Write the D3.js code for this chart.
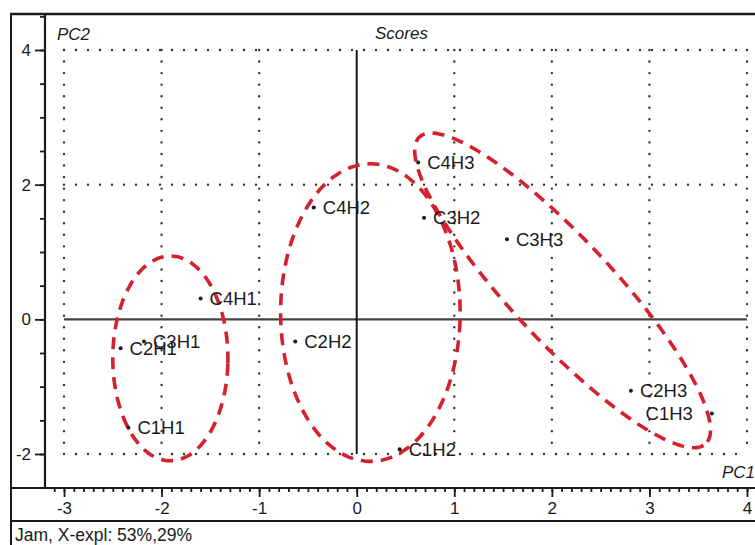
<!DOCTYPE html>
<html><head><meta charset="utf-8">
<script src="https://cdn.jsdelivr.net/npm/d3@7"></script>
<style>body{margin:0;background:#fff}svg{display:block}text{font-family:"Liberation Sans",Arial,sans-serif;fill:#1a1a1a}</style>
</head><body>
<script>
// ---- data ----
const labels = ["C4H3","C3H2","C3H3","C4H1","C2H1","C3H1","C1H1","C4H2","C2H2","C1H2","C2H3","C1H3"];
const pc1    = [0.63, 0.69, 1.54, -1.60, -2.42, -2.18, -2.34, -0.44, -0.63, 0.44, 2.81, 3.64];
const pc2    = [2.33, 1.51, 1.19, 0.31, -0.43, -0.33, -1.61, 1.66, -0.33, -1.93, -1.06, -1.40];
const labelSide = ["r","r","r","r","r","r","r","r","r","r","r","l"];
const xTicks = [-3,-2,-1,0,1,2,3,4];
const yTicks = [-2,0,2,4];
const groupCx = [-1.91, 0.14, 2.11];
const groupCy = [-0.58, 0.10, 0.43];
const groupRx = [0.59, 0.92, 2.15];
const groupRy = [1.52, 2.21, 0.76];
const groupAngle = [0, 0, 47];
const title = "Scores", xName = "PC1", yName = "PC2", footer = "Jam, X-expl: 53%,29%";

const W = 755, H = 545;
const svg = d3.select("body").append("svg").attr("width", W).attr("height", H);
const x = d3.scaleLinear().domain([-3, 4]).range([64, 747]);
const y = d3.scaleLinear().domain([-2, 4]).range([454, 50]);
const ink = "#1a1a1a";

// frame
const frame = svg.append("g").attr("stroke", ink).attr("fill", "none");
frame.append("line").attr("x1", 10).attr("x2", W).attr("y1", 14).attr("y2", 14).attr("stroke-width", 2.5);
frame.append("line").attr("x1", 11).attr("x2", 11).attr("y1", 14).attr("y2", H).attr("stroke-width", 2);
frame.append("line").attr("x1", 11).attr("x2", W).attr("y1", 521).attr("y2", 521).attr("stroke-width", 2);

// grid dotted
const dot = {"stroke": "#333", "stroke-width": 2.4, "stroke-linecap": "round", "stroke-dasharray": "0 12"};
const grid = svg.append("g");
yTicks.filter(v => v !== 0).forEach(v => {
  const l = grid.append("line").attr("x1", x(-3)).attr("x2", x(4)).attr("y1", y(v)).attr("y2", y(v));
  Object.entries(dot).forEach(([k, val]) => l.attr(k, val));
});
xTicks.filter(v => v !== 0).forEach(v => {
  const l = grid.append("line").attr("x1", x(v)).attr("x2", x(v)).attr("y1", y(4)).attr("y2", y(-2));
  Object.entries(dot).forEach(([k, val]) => l.attr(k, val).attr("stroke-dasharray", "0 11.55"));
});
// zero lines
svg.append("line").attr("x1", x(-3)).attr("x2", x(4)).attr("y1", y(0)).attr("y2", y(0))
  .attr("stroke", "#444").attr("stroke-width", 2.2);
svg.append("line").attr("x1", x(0)).attr("x2", x(0)).attr("y1", y(4)).attr("y2", y(-2))
  .attr("stroke", ink).attr("stroke-width", 2);

// x axis (bottom at y=488)
const xAxisMinor = d3.axisBottom(x).tickValues(d3.range(-31, 41).map(d => d / 10)).tickSize(4).tickFormat("");
const xAxisMajor = d3.axisBottom(x).tickValues(xTicks).tickSize(9).tickPadding(5).tickFormat(d3.format("d"));
const gx1 = svg.append("g").attr("transform", "translate(0,488)").call(xAxisMinor);
const gx2 = svg.append("g").attr("transform", "translate(0,488)").call(xAxisMajor);
[gx1, gx2].forEach(g => { g.select(".domain").remove(); g.selectAll("line").attr("stroke", ink).attr("stroke-width", 1.8); });
gx2.selectAll("text").attr("font-size", 17).attr("fill", ink).style("font-family", "Liberation Sans, Arial, sans-serif")
  .text(d => d < 0 ? "-" + Math.abs(d) : d);
svg.append("line").attr("x1", 11).attr("x2", W).attr("y1", 488).attr("y2", 488).attr("stroke", ink).attr("stroke-width", 2.2);

// y axis (left at x=45)
const yAxisMinor = d3.axisLeft(y).tickValues(d3.range(-5, 10).map(d => d / 2)).tickSize(5).tickFormat("");
const yAxisMajor = d3.axisLeft(y).tickValues(yTicks).tickSize(10).tickPadding(4).tickFormat(d3.format("d"));
const gy1 = svg.append("g").attr("transform", "translate(45,0)").call(yAxisMinor);
const gy2 = svg.append("g").attr("transform", "translate(45,0)").call(yAxisMajor);
[gy1, gy2].forEach(g => { g.select(".domain").remove(); g.selectAll("line").attr("stroke", ink).attr("stroke-width", 1.8); });
gy2.selectAll("text").attr("font-size", 17).attr("fill", ink).style("font-family", "Liberation Sans, Arial, sans-serif")
  .text(d => d < 0 ? "-" + Math.abs(d) : d);
svg.append("line").attr("x1", 45).attr("x2", 45).attr("y1", 14).attr("y2", 488).attr("stroke", ink).attr("stroke-width", 2.2);

// titles
svg.append("text").attr("x", 57).attr("y", 40).attr("font-size", 17).attr("font-style", "italic").text(yName);
svg.append("text").attr("x", 375).attr("y", 39).attr("font-size", 17).attr("font-style", "italic").text(title);
svg.append("text").attr("x", 755).attr("y", 478).attr("text-anchor", "end").attr("font-size", 17).attr("font-style", "italic").text(xName);
svg.append("text").attr("x", 15).attr("y", 541).attr("font-size", 17.5).text(footer);

// ellipses
const ell = d3.range(groupCx.length).map(i => {
  const cx = x(groupCx[i]), cy = y(groupCy[i]);
  const a = x(groupCx[i] + groupRx[i]) - cx, b = cy - y(groupCy[i] + groupRy[i]);
  const th = groupAngle[i] * Math.PI / 180;
  return d3.range(0, 360, 3).map(t => {
    const r = t * Math.PI / 180, ex = a * Math.cos(r), ey = b * Math.sin(r);
    return [cx + ex * Math.cos(th) - ey * Math.sin(th), cy + ex * Math.sin(th) + ey * Math.cos(th)];
  });
});
svg.append("g").selectAll("path").data(ell).join("path")
  .attr("d", d3.line().curve(d3.curveCardinalClosed))
  .attr("fill", "none").attr("stroke", "#d3212d").attr("stroke-width", 3.6).attr("stroke-dasharray", "12 8");

// points
const pts = svg.append("g");
labels.forEach((lab, i) => {
  const px = x(pc1[i]), py = y(pc2[i]);
  pts.append("circle").attr("cx", px).attr("cy", py).attr("r", 2).attr("fill", ink);
  const left = labelSide[i] === "l";
  pts.append("text").attr("x", left ? px - 19 : px + 9).attr("y", py).attr("dy", "0.36em")
    .attr("text-anchor", left ? "end" : "start").attr("font-size", 18.5).text(lab);
});
</script>
</body></html>
